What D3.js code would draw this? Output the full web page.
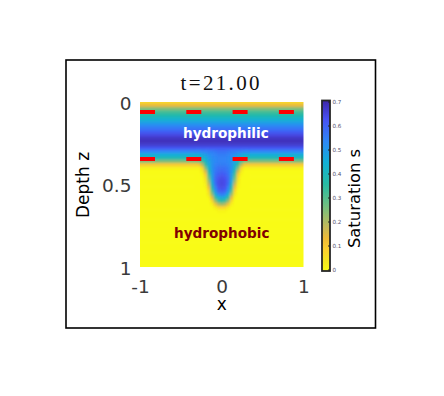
<!DOCTYPE html>
<html>
<head>
<meta charset="utf-8">
<script src="https://cdn.jsdelivr.net/npm/d3@7"></script>
<style>
  html, body { margin: 0; padding: 0; background: #ffffff; }
  svg { display: block; }
</style>
</head>
<body>
<svg id="chart" width="444" height="396"></svg>
<script>
// ---------------- data ----------------
const titleText = "t=21.00";
const xTicks = [-1, 0, 1];
const xTickLabels = ["-1", "0", "1"];
const zTicks = [0, 0.5, 1];
const zTickLabels = ["0", "0.5", "1"];
const cbTicks = [0, 0.1, 0.2, 0.3, 0.4, 0.5, 0.6, 0.7];
const cbTickLabels = ["0", "0.1", "0.2", "0.3", "0.4", "0.5", "0.6", "0.7"];
const interfaceZ = [0.06, 0.345];
const regionLabels = ["hydrophilic", "hydrophobic"];
const regionLabelX = [0.05, 0.0];
const regionLabelZ = [0.22, 0.825];

// background vertical saturation profile (same for all x away from the finger)
const profileZ = [0.00, 0.02, 0.04, 0.06, 0.08, 0.10, 0.12, 0.14, 0.16, 0.18,
                  0.20, 0.22, 0.24, 0.26, 0.28, 0.30, 0.32, 0.34, 0.36, 0.38,
                  0.40, 0.42, 0.44, 0.46, 0.48, 0.50, 0.52, 0.54, 0.56, 0.58,
                  0.60, 0.62, 0.64, 0.66, 0.68, 0.70, 0.72, 0.74, 0.76, 0.78,
                  0.80, 0.82, 0.84, 0.86, 0.88, 0.90, 0.92, 0.94, 0.96, 0.98, 1.00];
const profileS = [0.07, 0.14, 0.25, 0.32, 0.37, 0.42, 0.47, 0.52, 0.56, 0.60,
                  0.64, 0.67, 0.68, 0.66, 0.61, 0.53, 0.45, 0.38, 0.25, 0.10,
                  0.02, 0, 0, 0, 0, 0, 0, 0, 0, 0,
                  0, 0, 0, 0, 0, 0, 0, 0, 0, 0,
                  0, 0, 0, 0, 0, 0, 0, 0, 0, 0, 0];

// finger region grid (x columns, z rows)
const fingerX = [-0.32, -0.28, -0.24, -0.20, -0.16, -0.12, -0.08, -0.04, 0.00,
                 0.04, 0.08, 0.12, 0.16, 0.20, 0.24, 0.28, 0.32];
const fingerZ = [0.30, 0.32, 0.34, 0.36, 0.38, 0.40, 0.42, 0.44, 0.46, 0.48,
                 0.50, 0.52, 0.54, 0.56, 0.58, 0.60, 0.62, 0.64, 0.66];
const fingerS = [
  [0.53,0.53,0.54,0.54,0.55,0.55,0.56,0.57,0.57,0.57,0.56,0.55,0.55,0.54,0.54,0.53,0.53],
  [0.45,0.45,0.47,0.49,0.51,0.53,0.54,0.55,0.55,0.55,0.54,0.53,0.51,0.49,0.47,0.45,0.45],
  [0.38,0.38,0.41,0.45,0.49,0.52,0.53,0.54,0.54,0.54,0.53,0.52,0.49,0.45,0.41,0.38,0.38],
  [0.25,0.27,0.32,0.40,0.47,0.51,0.53,0.54,0.54,0.54,0.53,0.51,0.47,0.40,0.32,0.27,0.25],
  [0.10,0.11,0.19,0.34,0.45,0.51,0.54,0.55,0.55,0.55,0.54,0.51,0.45,0.34,0.19,0.11,0.10],
  [0.02,0.02,0.08,0.25,0.42,0.51,0.55,0.57,0.57,0.57,0.55,0.51,0.42,0.25,0.08,0.02,0.02],
  [0,0,0.03,0.16,0.37,0.50,0.56,0.58,0.59,0.58,0.56,0.50,0.37,0.16,0.03,0,0],
  [0,0,0.01,0.10,0.32,0.49,0.57,0.60,0.61,0.60,0.57,0.49,0.32,0.10,0.01,0,0],
  [0,0,0,0.06,0.27,0.48,0.58,0.62,0.63,0.62,0.58,0.48,0.27,0.06,0,0,0],
  [0,0,0,0.04,0.22,0.46,0.58,0.63,0.64,0.63,0.58,0.46,0.22,0.04,0,0,0],
  [0,0,0,0.02,0.17,0.42,0.57,0.63,0.64,0.63,0.57,0.42,0.17,0.02,0,0,0],
  [0,0,0,0.01,0.12,0.37,0.54,0.62,0.63,0.62,0.54,0.37,0.12,0.01,0,0,0],
  [0,0,0,0,0.07,0.30,0.50,0.59,0.60,0.59,0.50,0.30,0.07,0,0,0,0],
  [0,0,0,0,0.04,0.22,0.43,0.53,0.55,0.53,0.43,0.22,0.04,0,0,0,0],
  [0,0,0,0,0.01,0.14,0.33,0.44,0.47,0.44,0.33,0.14,0.01,0,0,0,0],
  [0,0,0,0,0,0.07,0.22,0.33,0.36,0.33,0.22,0.07,0,0,0,0,0],
  [0,0,0,0,0,0.02,0.11,0.19,0.22,0.19,0.11,0.02,0,0,0,0,0],
  [0,0,0,0,0,0,0.03,0.07,0.08,0.07,0.03,0,0,0,0,0,0],
  [0,0,0,0,0,0,0,0.01,0.01,0.01,0,0,0,0,0,0,0]
];

// parula-like colormap anchors (style): t=0 dark blue ... t=1 yellow
const cmapT = [0.000, 0.111, 0.238, 0.365, 0.492, 0.619, 0.746, 0.810, 0.873, 0.937, 1.000];
const cmapC = ["#3e26a8", "#4852f4", "#2e87f7", "#12b1d6", "#28bba3", "#71bf80",
               "#c6b858", "#eeba37", "#fccf30", "#f5e522", "#f9fb15"];

// ---------------- layout ----------------
const svg = d3.select("#chart");
const plot = { left: 140, right: 303.5, top: 102, bottom: 267 };
const sMax = 0.7;

const x = d3.scaleLinear().domain([-1, 1]).range([plot.left, plot.right]);
const z = d3.scaleLinear().domain([0, 1]).range([plot.top, plot.bottom]);
const cmap = d3.scaleLinear().domain(cmapT).range(cmapC).interpolate(d3.interpolateRgb).clamp(true);
const sNorm = d3.scaleLinear().domain([0, sMax]).range([1, 0]).clamp(true);
const color = s => cmap(sNorm(s));

// outer frame
svg.append("rect")
  .attr("x", 66).attr("y", 60).attr("width", 309.5).attr("height", 268)
  .attr("fill", "#fff").attr("stroke", "#000").attr("stroke-width", 1.6);

const defs = svg.append("defs");
defs.append("clipPath").attr("id", "plotClip")
  .append("rect")
  .attr("x", plot.left).attr("y", plot.top)
  .attr("width", plot.right - plot.left).attr("height", plot.bottom - plot.top);
const blur = defs.append("filter").attr("id", "soft")
  .attr("x", "-5%").attr("y", "-5%").attr("width", "110%").attr("height", "110%");
blur.append("feGaussianBlur").attr("stdDeviation", 1.0);

const clipG = svg.append("g").attr("clip-path", "url(#plotClip)");
const heat = clipG.append("g").attr("filter", "url(#soft)");

const dz = 0.02, dx = 0.04;
// background rows
heat.selectAll("rect.bg")
  .data(profileZ.map((zz, i) => ({ z: zz, s: profileS[i], i })))
  .join("rect")
  .attr("class", "bg")
  .attr("x", x(-1) - 6)
  .attr("width", x(1) - x(-1) + 12)
  .attr("y", d => z(d.z - dz / 2) - (d.i === 0 ? 6 : 0))
  .attr("height", d => z(d.z + dz / 2) - z(d.z - dz / 2) + 0.6 + (d.i === 0 || d.i === profileZ.length - 1 ? 6 : 0))
  .attr("fill", d => color(d.s));

// finger cells
const cells = [];
fingerZ.forEach((zz, r) => fingerX.forEach((xx, c) => cells.push({ x: xx, z: zz, s: fingerS[r][c] })));
heat.selectAll("rect.cell")
  .data(cells)
  .join("rect")
  .attr("class", "cell")
  .attr("x", d => x(d.x - dx / 2))
  .attr("width", d => x(d.x + dx / 2) - x(d.x - dx / 2) + 0.6)
  .attr("y", d => z(d.z - dz / 2))
  .attr("height", d => z(d.z + dz / 2) - z(d.z - dz / 2) + 0.6)
  .attr("fill", d => color(d.s));

// dashed interface lines
clipG.selectAll("line.iface")
  .data(interfaceZ)
  .join("line")
  .attr("class", "iface")
  .attr("x1", x(-1)).attr("x2", x(1))
  .attr("y1", d => z(d)).attr("y2", d => z(d))
  .attr("stroke", "#ff0000").attr("stroke-width", 4)
  .attr("stroke-dasharray", "15 31.3");

// region labels
svg.selectAll("text.region")
  .data(regionLabels)
  .join("text")
  .attr("class", "region")
  .attr("x", (d, i) => x(regionLabelX[i]))
  .attr("y", (d, i) => z(regionLabelZ[i]))
  .attr("text-anchor", "middle")
  .attr("font-family", "DejaVu Sans")
  .attr("font-weight", "bold")
  .attr("font-size", 13.6)
  .attr("fill", (d, i) => i === 0 ? "#ffffff" : "#800000")
  .text(d => d);

// axes
const tickFont = "DejaVu Sans";
const xAxis = svg.append("g")
  .attr("transform", `translate(0,${plot.bottom})`)
  .call(d3.axisBottom(x).tickValues(xTicks).tickFormat((d, i) => xTickLabels[i]).tickSize(0).tickPadding(13));
const zAxis = svg.append("g")
  .attr("transform", `translate(${plot.left},0)`)
  .call(d3.axisLeft(z).tickValues(zTicks).tickFormat((d, i) => zTickLabels[i]).tickSize(0).tickPadding(8.5));
[xAxis, zAxis].forEach(g => {
  g.select(".domain").remove();
  g.selectAll("text")
    .attr("font-family", tickFont)
    .attr("font-size", 18.5)
    .attr("fill", "#3a3a3a");
});
zAxis.selectAll(".tick text").attr("dy", "0.4em");

// axis labels
svg.append("text")
  .attr("x", x(0)).attr("y", 309.8)
  .attr("text-anchor", "middle")
  .attr("font-family", "DejaVu Sans").attr("font-size", 17)
  .attr("fill", "#000").text("x");
svg.append("text")
  .attr("transform", "translate(88.5,185) rotate(-90)")
  .attr("text-anchor", "middle")
  .attr("font-family", "DejaVu Sans").attr("font-size", 17)
  .attr("fill", "#000").text("Depth z");

// title
svg.append("text")
  .attr("x", 220).attr("y", 90)
  .attr("text-anchor", "middle")
  .attr("font-family", "Liberation Serif").attr("font-size", 21)
  .attr("textLength", 79).attr("lengthAdjust", "spacing")
  .attr("fill", "#111").text(titleText);

// colorbar
const cb = { x: 322, w: 8, top: 100.5, bottom: 271 };
const cbScale = d3.scaleLinear().domain([0, sMax]).range([cb.bottom - 1, cb.top + 1.5]);
const grad = defs.append("linearGradient").attr("id", "cbGrad")
  .attr("x1", 0).attr("y1", 1).attr("x2", 0).attr("y2", 0);
const stops = cmapT.map((t, i) => ({ offset: 1 - t, color: cmapC[i] }))
  .sort((a, b) => a.offset - b.offset);
grad.selectAll("stop")
  .data(stops)
  .join("stop")
  .attr("offset", d => d.offset)
  .attr("stop-color", d => d.color);
svg.append("rect")
  .attr("x", cb.x).attr("y", cb.top).attr("width", cb.w).attr("height", cb.bottom - cb.top)
  .attr("fill", "url(#cbGrad)")
  .attr("stroke", "#262626").attr("stroke-width", 1.8);
const cbAxis = svg.append("g")
  .attr("transform", `translate(${cb.x + cb.w},0)`)
  .call(d3.axisRight(cbScale).tickValues(cbTicks).tickFormat((d, i) => cbTickLabels[i]).tickSize(0).tickPadding(2.5));
cbAxis.select(".domain").remove();
cbAxis.selectAll("text")
  .attr("font-family", "DejaVu Sans").attr("font-size", 5.6).attr("fill", "#50506e");
svg.selectAll("line.cbtick")
  .data(cbTicks)
  .join("line")
  .attr("class", "cbtick")
  .attr("x1", cb.x + cb.w - 2).attr("x2", cb.x + cb.w)
  .attr("y1", d => cbScale(d)).attr("y2", d => cbScale(d))
  .attr("stroke", "#222").attr("stroke-width", 1);

svg.append("text")
  .attr("transform", "translate(359.5,198.5) rotate(-90)")
  .attr("text-anchor", "middle")
  .attr("font-family", "DejaVu Sans").attr("font-size", 16.4)
  .attr("fill", "#000").text("Saturation s");
</script>
</body>
</html>
